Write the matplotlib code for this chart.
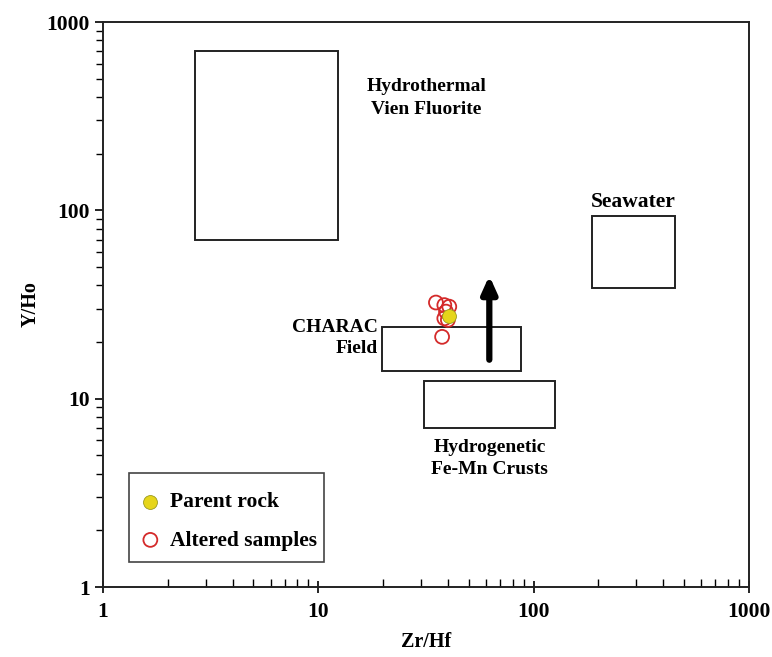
import numpy as np
import matplotlib.pyplot as plt
from matplotlib.patches import Rectangle

plt.rcParams['font.family'] = ['Liberation Serif', 'DejaVu Serif']
plt.rcParams['font.weight'] = 'bold'

# field boxes: (x0, x1, y0, y1) in Zr/Hf, Y/Ho
fields = {
    'Hydrothermal\nVien Fluorite': (2.67, 12.4, 70, 700),
    'Seawater': (187, 454, 38.7, 93),
    'CHARAC\nField': (19.7, 87.6, 14.0, 24.0),
    'Hydrogenetic\nFe-Mn Crusts': (31.1, 126, 7.0, 12.4),
}

parent_zrhf = [40.6]
parent_yho = [27.5]

altered_zrhf = [35.2, 38.5, 40.6, 39.2, 38.5, 40.0, 37.6]
altered_yho = [32.4, 31.4, 30.8, 29.0, 26.7, 26.2, 21.3]

fig = plt.figure(figsize=(7.72, 6.57), dpi=100)
ax = fig.add_axes([0.1334, 0.1065, 0.8366, 0.86])
ax.set_xscale('log')
ax.set_yscale('log')
ax.set_xlim(1, 1000)
ax.set_ylim(1, 1000)

for name, (x0, x1, y0, y1) in fields.items():
    ax.add_patch(Rectangle((x0, y0), x1 - x0, y1 - y0, fill=False,
                           edgecolor='#222222', linewidth=1.4, zorder=2))

ax.text(31.8, 395, 'Hydrothermal\nVien Fluorite', ha='center', va='center',
        fontsize=14, fontweight='bold', linespacing=1.45)
ax.text(290, 111, 'Seawater', ha='center', va='center',
        fontsize=15.5, fontweight='bold')
ax.text(19.0, 21.0, 'CHARAC\nField', ha='right', va='center',
        fontsize=14, fontweight='bold', linespacing=1.35, multialignment='right')
ax.text(62.6, 4.8, 'Hydrogenetic\nFe-Mn Crusts', ha='center', va='center',
        fontsize=14, fontweight='bold', linespacing=1.4)

# trend arrow
ax.annotate('', xy=(62.3, 45), xytext=(62.3, 16.1),
            arrowprops=dict(arrowstyle='-|>,head_length=1.0,head_width=0.45',
                            color='black', lw=4.5, shrinkA=0, shrinkB=0),
            zorder=3)

ax.scatter(altered_zrhf, altered_yho, s=100, facecolors='none',
           edgecolors='#d42a2a', linewidths=1.3, zorder=4, label='Altered samples')
ax.scatter(parent_zrhf, parent_yho, s=100, facecolors='#e6d51a',
           edgecolors='#9a9a20', linewidths=0.6, zorder=5, label='Parent rock')

handles, labels = ax.get_legend_handles_labels()
leg = ax.legend(handles[::-1], labels[::-1], loc='lower left',
                bbox_to_anchor=(0.025, 0.036), frameon=True, fancybox=False,
                fontsize=15.5, labelspacing=0.85,
                handletextpad=0.2, borderpad=0.75, handlelength=1.4,
                borderaxespad=0)
leg.get_frame().set_visible(False)
# legend border drawn separately (wider top/bottom margin than the sides)
ax.add_patch(Rectangle((0.0402, 0.0442), 0.3018, 0.1576, transform=ax.transAxes,
                       fill=False, edgecolor='#444444', linewidth=1.2, zorder=6))

ax.set_xlabel('Zr/Hf', fontsize=14.5, fontweight='bold', labelpad=7)
ax.set_ylabel('Y/Ho', fontsize=14.5, fontweight='bold', labelpad=4)

ax.set_xticks([1, 10, 100, 1000])
ax.set_xticklabels(['1', '10', '100', '1000'])
ax.set_yticks([1, 10, 100, 1000])
ax.set_yticklabels(['1', '10', '100', '1000'])
ax.tick_params(axis='x', which='both', direction='inout', labelsize=15.5, pad=7)
ax.tick_params(axis='x', which='major', length=8, width=1.2)
ax.tick_params(axis='x', which='minor', length=6, width=1.0, direction='in')
ax.tick_params(axis='y', which='both', direction='out', labelsize=15.5)
ax.tick_params(axis='y', which='major', length=6, width=1.2)
ax.tick_params(axis='y', which='minor', length=5, width=1.0)
for lab in ax.get_xticklabels() + ax.get_yticklabels():
    lab.set_fontweight('bold')
for sp in ax.spines.values():
    sp.set_linewidth(1.4)
    sp.set_color('#222222')

fig.savefig('out.png', dpi=100)
